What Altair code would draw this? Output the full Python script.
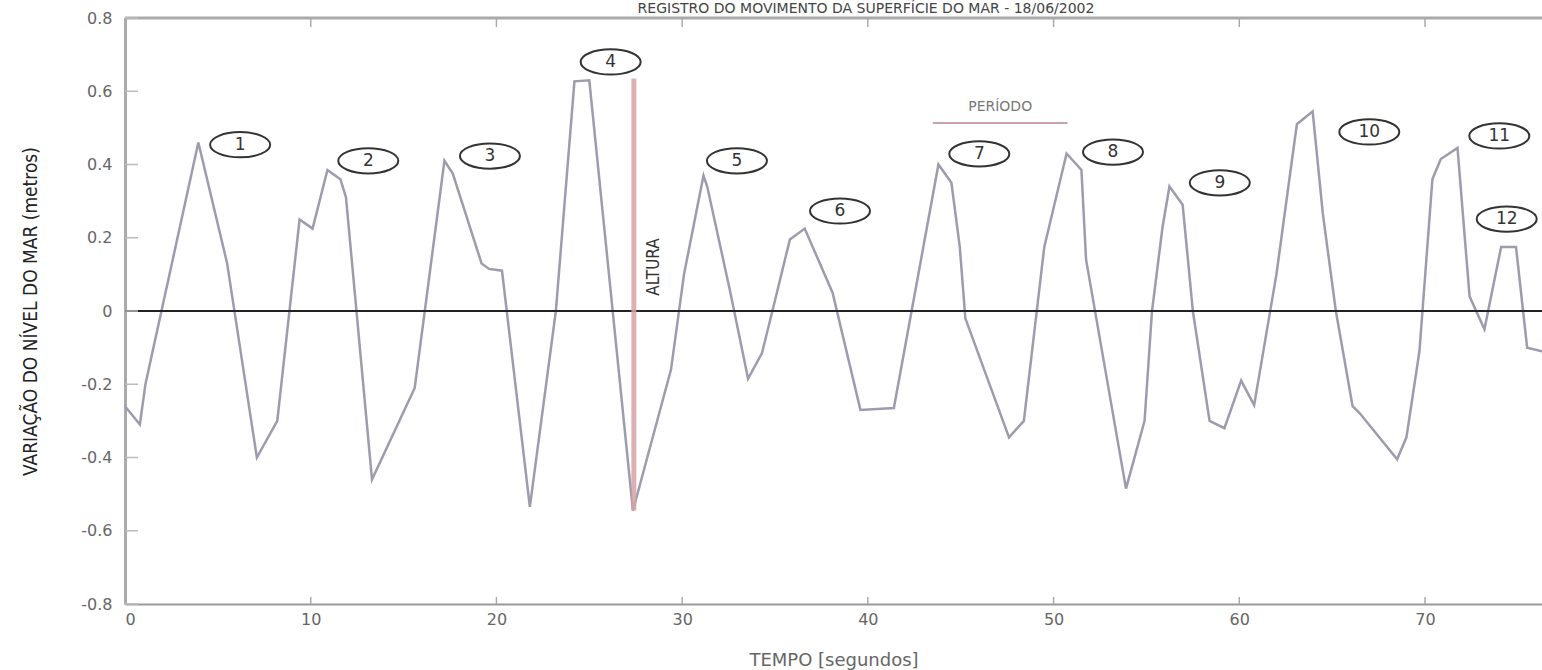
import altair as alt
import pandas as pd

# ---- data ----
times = [0.0, 0.8, 1.1, 3.95, 5.5, 7.1, 8.2, 9.4, 10.1, 10.9, 11.6, 11.9, 13.3,
         15.6, 17.2, 17.65, 19.2, 19.6, 20.3, 21.8, 23.2, 24.2, 25.0, 27.35,
         29.4, 30.1, 31.15, 31.35, 32.6, 33.55, 34.3, 35.1, 35.8, 36.6, 38.1,
         39.6, 41.4, 43.8, 44.5, 44.95, 45.25, 47.6, 48.4, 49.5, 50.7, 51.5,
         51.75, 53.9, 54.9, 55.3, 55.87, 56.24, 56.95, 57.5, 58.4, 59.2, 60.1,
         60.8, 62.0, 63.1, 63.95, 64.5, 65.2, 66.1, 66.5, 68.5, 69.0, 69.7,
         70.4, 70.85, 71.75, 72.4, 73.2, 74.1, 74.9, 75.5, 76.3]
levels = [-0.26, -0.31, -0.20, 0.46, 0.13, -0.40, -0.30, 0.25, 0.225, 0.385, 0.36, 0.31, -0.46,
          -0.21, 0.41, 0.375, 0.13, 0.115, 0.11, -0.535, 0.0, 0.627, 0.63, -0.545,
          -0.16, 0.10, 0.37, 0.34, 0.05, -0.185, -0.115, 0.05, 0.195, 0.225, 0.05,
          -0.27, -0.265, 0.40, 0.35, 0.175, -0.02, -0.345, -0.30, 0.175, 0.43, 0.385,
          0.14, -0.485, -0.30, 0.0, 0.23, 0.34, 0.29, 0.0, -0.30, -0.32, -0.19,
          -0.257, 0.10, 0.51, 0.545, 0.265, 0.0, -0.26, -0.28, -0.405, -0.345, -0.11,
          0.36, 0.415, 0.445, 0.04, -0.05, 0.175, 0.175, -0.10, -0.11]

wave_numbers = ["1", "2", "3", "4", "5", "6", "7", "8", "9", "10", "11", "12"]
wave_label_t = [6.2, 13.1, 19.65, 26.15, 32.95, 38.5, 46.0, 53.2, 58.95, 67.0, 74.0, 74.4]
wave_label_v = [0.454, 0.41, 0.423, 0.68, 0.41, 0.273, 0.429, 0.434, 0.35, 0.489, 0.478, 0.251]

x_ticks = [0, 10, 20, 30, 40, 50, 60, 70]
y_ticks = [-0.8, -0.6, -0.4, -0.2, 0, 0.2, 0.4, 0.6, 0.8]

altura_t = [27.4]
altura_top = [0.635]
altura_bottom = [-0.545]
periodo_start = [43.5]
periodo_end = [50.75]
periodo_level = [0.513]

title_text = "REGISTRO DO MOVIMENTO DA SUPERFÍCIE DO MAR - 18/06/2002"

# ---- tables ----
wave = pd.DataFrame({"t": times, "v": levels})
labels = pd.DataFrame({"t": wave_label_t, "v": wave_label_v, "n": wave_numbers})
xt = pd.DataFrame({"t": x_ticks})
yt = pd.DataFrame({"v": y_ticks})
altura = pd.DataFrame({"t": altura_t, "top": altura_top, "bottom": altura_bottom,
                       "lt": [28.5], "lv": [0.12], "txt": ["ALTURA"]})
periodo = pd.DataFrame({"t1": periodo_start, "t2": periodo_end, "v": periodo_level,
                        "tm": [(periodo_start[0] + periodo_end[0]) / 2], "vt": [0.558],
                        "txt": ["PERÍODO"]})
title_df = pd.DataFrame({"txt": [title_text]})

W, H = 1417, 586
xs = alt.Scale(domain=[0, 76.3], nice=False, zero=False)
ys = alt.Scale(domain=[-0.8, 0.8], nice=False, zero=False)
FONT = "DejaVu Sans"
NARROW = "Liberation Sans Narrow, DejaVu Sans Condensed, Arial Narrow, sans-serif"

XAXIS = alt.Axis(values=x_ticks, ticks=False, grid=False, domainColor="#9a9a9a",
                 domainWidth=2, labelFont=FONT, labelFontSize=16, labelColor="#666",
                 labelPadding=7, title="TEMPO [segundos]", titleFont=FONT,
                 titleFontSize=18, titleFontWeight="normal", titleColor="#666",
                 titlePadding=24)
YAXIS = alt.Axis(values=y_ticks, ticks=False, grid=False, domainColor="#aaaaaa",
                 domainWidth=3, labelFont=FONT, labelFontSize=16, labelColor="#666",
                 labelPadding=13,
                 labelExpr="datum.value == 0 ? '0' : (datum.value < 0 ? '-' : '') + format(abs(datum.value), '.1f')",
                 title="VARIAÇÃO DO NÍVEL DO MAR (metros)", titleFont=NARROW,
                 titleFontSize=19, titleFontWeight="normal", titleColor="#222",
                 titlePadding=40)

def X(f):
    return alt.X(f, type="quantitative", scale=xs, axis=XAXIS)

def Y(f):
    return alt.Y(f, type="quantitative", scale=ys, axis=YAXIS)

line = alt.Chart(wave).mark_line(color="#9c9cae", strokeWidth=2.5).encode(
    x=X("t"), y=Y("v"), order=alt.Order("t:Q"))

zero = alt.Chart(yt).transform_filter("datum.v == 0").mark_rule(
    color="#222", strokeWidth=2).encode(y=Y("v"))
top_border = alt.Chart(yt).transform_filter("datum.v == 0.8").mark_rule(
    color="#aaaaaa", strokeWidth=3).encode(y=Y("v"))

top_ticks = alt.Chart(xt).mark_rule(color="#aaaaaa", strokeWidth=1.5).encode(
    x=X("t"), y=alt.value(0), y2=alt.value(9))
bottom_ticks = alt.Chart(xt).mark_rule(color="#aaaaaa", strokeWidth=1.5).encode(
    x=X("t"), y=alt.value(H), y2=alt.value(H - 7))
left_ticks = alt.Chart(yt).mark_rule(color="#bbbbbb", strokeWidth=1.5).encode(
    y=Y("v"), x=alt.value(0), x2=alt.value(13))

altura_rule = alt.Chart(altura).mark_rule(color="#d7a3a6", strokeWidth=5, opacity=0.85).encode(
    x=X("t"), y=Y("top"), y2=alt.Y2("bottom"))
altura_text = alt.Chart(altura).mark_text(
    angle=270, font=NARROW, fontSize=17, color="#333", baseline="middle", align="center"
).encode(x=X("lt"), y=Y("lv"), text="txt:N")

periodo_rule = alt.Chart(periodo).mark_rule(color="#c9a2b2", strokeWidth=2).encode(
    x=X("t1"), x2=alt.X2("t2"), y=Y("v"))
periodo_text = alt.Chart(periodo).mark_text(
    font=FONT, fontSize=14, color="#777", baseline="middle", align="center"
).encode(x=X("tm"), y=Y("vt"), text="txt:N")

ELLIPSE = ("M 1 0 C 1 0.232 0.552 0.42 0 0.42 C -0.552 0.42 -1 0.232 -1 0 "
           "C -1 -0.232 -0.552 -0.42 0 -0.42 C 0.552 -0.42 1 -0.232 1 0 Z")
ellipses = alt.Chart(labels).mark_point(
    shape=ELLIPSE, size=3600, filled=False, stroke="#333", strokeWidth=2, opacity=1
).encode(x=X("t"), y=Y("v"))
numbers = alt.Chart(labels).mark_text(
    font=FONT, fontSize=17, color="#333", baseline="middle", align="center"
).encode(x=X("t"), y=Y("v"), text="n:N")

# chart title, drawn just above the plot frame as in the reference
title_mark = alt.Chart(title_df).mark_text(
    font=FONT, fontSize=14, color="#444", align="center", baseline="alphabetic"
).encode(text="txt:N", x=alt.value(741), y=alt.value(-5))

chart = alt.layer(
    line, top_border, zero, top_ticks, bottom_ticks, left_ticks,
    altura_rule, periodo_rule, ellipses, numbers, altura_text, periodo_text, title_mark
).properties(
    width=W, height=H,
    padding={"left": 125, "top": 18, "right": 0, "bottom": 66},
    autosize=alt.AutoSizeParams(type="none"),
).configure_view(stroke=None).configure(background="white")

chart.save("out.html", embed_options={"renderer": "svg", "actions": False})
